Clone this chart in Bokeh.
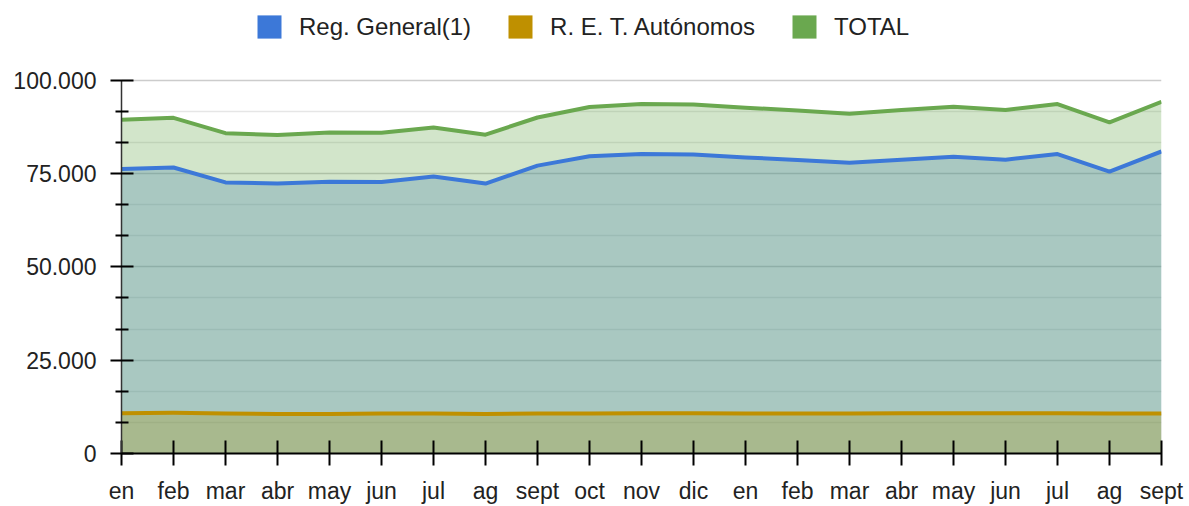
from bokeh.plotting import figure
from bokeh.models import Range1d, FixedTicker, ColumnDataSource, Legend, LegendItem
from bokeh.embed import file_html
from bokeh.resources import INLINE

# ---- data ----
months = ["en", "feb", "mar", "abr", "may", "jun", "jul", "ag", "sept", "oct", "nov", "dic",
          "en", "feb", "mar", "abr", "may", "jun", "jul", "ag", "sept"]
reg_general = [76200, 76600, 72600, 72300, 72800, 72700, 74200, 72300, 77100, 79600, 80200, 80100,
               79300, 78600, 77900, 78700, 79500, 78700, 80200, 75500, 80900]
autonomos = [10800, 10900, 10700, 10600, 10600, 10700, 10700, 10600, 10700, 10700, 10800, 10800,
             10700, 10700, 10700, 10800, 10800, 10800, 10800, 10700, 10700]
total = [89400, 89900, 85800, 85300, 86000, 85900, 87300, 85400, 90000, 92800, 93600, 93500,
         92600, 91900, 91000, 92000, 92900, 92000, 93600, 88700, 94200]
y_ticks = [0, 25000, 50000, 75000, 100000]
y_tick_labels = ["0", "25.000", "50.000", "75.000", "100.000"]
series_names = ["Reg. General(1)", "R. E. T. Autónomos", "TOTAL"]
colors = ["#3c78d8", "#bf9000", "#6aa84f"]

idx = list(range(len(months)))
src = ColumnDataSource(dict(x=idx, reg=reg_general, aut=autonomos, tot=total,
                            zero=[0] * len(idx)))

FONT = "Liberation Sans"
TXT = "#222222"

# frame spans from the top of the figure (legend area included) down to the x axis;
# the visible y scale is 0..100000, the extra headroom holds the legend
Y_MAX = 100000
HEADROOM = Y_MAX * 455 / 375

p = figure(width=1189, height=506, output_backend="svg", toolbar_location=None,
           x_range=Range1d(0, len(idx) - 1), y_range=Range1d(0, HEADROOM),
           min_border_left=121, min_border_right=28, min_border_top=0, min_border_bottom=51)
p.outline_line_color = None
p.background_fill_color = "white"
p.border_fill_color = "white"

# areas first (series order), then lines on top
for col, c in zip(["reg", "aut", "tot"], colors):
    p.varea(x="x", y1="zero", y2=col, source=src, fill_color=c, fill_alpha=0.3)
for col, c in zip(["reg", "aut", "tot"], colors):
    p.line(x="x", y=col, source=src, line_color=c, line_width=4, line_join="round")

# legend swatches (opaque squares) from zero-height areas
items = []
for name, c in zip(series_names, colors):
    r = p.varea(x="x", y1="zero", y2="zero", source=src, fill_color=c, fill_alpha=1.0)
    items.append(LegendItem(label=name, renderers=[r]))
legend = Legend(items=items, orientation="horizontal", location=(133, 412),
                glyph_width=30, glyph_height=29, label_standoff=15, spacing=34,
                padding=0, margin=0, border_line_color=None, background_fill_alpha=0,
                label_text_font=FONT, label_text_font_size="24px", label_text_color=TXT,
                label_height=23)
p.add_layout(legend, "center")

# y axis
minor = [v * 25000 / 3 for v in range(13) if v % 3 != 0]
p.yaxis.ticker = FixedTicker(ticks=y_ticks, minor_ticks=minor)
p.yaxis.bounds = (0, Y_MAX)
p.yaxis.major_label_overrides = {t: l for t, l in zip(y_ticks, y_tick_labels)}
p.yaxis.major_label_text_font = FONT
p.yaxis.major_label_text_font_size = "23px"
p.yaxis.major_label_text_color = TXT
p.yaxis.major_label_standoff = 14
p.yaxis.major_tick_in = 12
p.yaxis.major_tick_out = 11
p.yaxis.minor_tick_in = 7
p.yaxis.minor_tick_out = 6
p.yaxis.major_tick_line_width = 2
p.yaxis.minor_tick_line_width = 2
p.yaxis.major_tick_line_color = "black"
p.yaxis.minor_tick_line_color = "black"
p.yaxis.axis_line_color = "#333333"
p.yaxis.axis_line_width = 1.5

# x axis
p.xaxis.ticker = FixedTicker(ticks=idx)
p.xaxis.major_label_overrides = {i: m for i, m in zip(idx, months)}
p.xaxis.major_label_text_font = FONT
p.xaxis.major_label_text_font_size = "23px"
p.xaxis.major_label_text_color = TXT
p.xaxis.major_label_standoff = 12
p.xaxis.major_tick_in = 13
p.xaxis.major_tick_out = 12
p.xaxis.major_tick_line_width = 2
p.xaxis.major_tick_line_color = "black"
p.xaxis.axis_line_color = "black"
p.xaxis.axis_line_width = 2
p.xaxis.minor_tick_line_color = None

# grid
p.xgrid.grid_line_color = None
p.ygrid.ticker = FixedTicker(ticks=y_ticks, minor_ticks=minor)
p.ygrid.grid_line_color = "#cccccc"
p.ygrid.grid_line_width = 1.5
p.ygrid.minor_grid_line_color = "#e6e6e6"
p.ygrid.minor_grid_line_width = 1.5

open("out.html", "w").write(file_html(p, INLINE))
